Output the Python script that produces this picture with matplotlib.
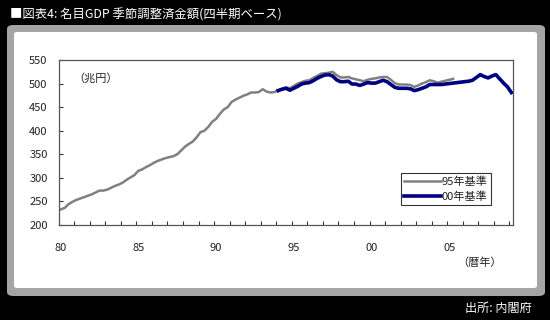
import matplotlib
matplotlib.use('Agg')
import matplotlib.pyplot as plt
from matplotlib.patches import FancyBboxPatch
import numpy as np

plt.rcParams['font.family'] = ['Noto Sans CJK JP', 'DejaVu Sans']

# 名目GDP 季節調整済 (兆円), 四半期: 1980Q1 から
start_year = 1980
n_quarters = 117  # 1980Q1 - 2009Q1

# 95年基準 1980Q1 - 2005Q2
gdp_95 = [
    233, 236, 244, 249,
    253, 256, 259, 262,
    265, 269, 273, 273,
    275, 279, 283, 286,
    290, 296, 301, 306,
    315, 318, 323, 327,
    332, 336, 339, 342,
    344, 346, 350, 358,
    366, 372, 377, 386,
    397, 400, 408, 419,
    425, 436, 445, 450,
    461, 466, 470, 474,
    477, 481, 481, 482,
    488, 483, 481, 482,
    486, 489, 492, 490,
    495, 500, 503, 506,
    507, 512, 516, 521,
    522, 523, 525, 518,
    513, 513, 514, 511,
    509, 507, 505, 508,
    510, 511, 513, 514,
    514, 508, 501, 498,
    498, 498, 497, 493,
    496, 500, 503, 507,
    505, 502, 504, 506,
    508, 510,
]

# 00年基準 1994Q1 - 2009Q1
start_00 = 56
gdp_00 = [
    485, 488, 490, 486,
    490, 494, 499, 501,
    502, 506, 511, 515,
    518, 519, 516, 508,
    504, 504, 505, 499,
    499, 496, 499, 502,
    501, 501, 504, 507,
    504, 498, 492, 490,
    490, 490, 489, 485,
    487, 490, 493, 498,
    498, 498, 498, 499,
    500, 501, 502, 503,
    504, 505, 507, 513,
    519, 515, 512, 516,
    519, 510, 501, 493,
    481,
]

year_labels = ['80', '85', '90', '95', '00', '05']

W, H = 550, 320
fig = plt.figure(figsize=(W / 100, H / 100), dpi=100)
fig.patch.set_facecolor('black')

# 外枠
fig.patches.append(FancyBboxPatch((7 / W, 1 - 296 / H), 538 / W, 271 / H,
                                  boxstyle='round,pad=0,rounding_size=0.012',
                                  transform=fig.transFigure, facecolor='#a5a5a5',
                                  edgecolor='none', zorder=-2))
fig.patches.append(FancyBboxPatch((14 / W, 1 - 288 / H), 523 / W, 256 / H,
                                  boxstyle='round,pad=0,rounding_size=0.006',
                                  transform=fig.transFigure, facecolor='white',
                                  edgecolor='none', zorder=-1))

fig.text(10 / W, 1 - 15 / H, '■図表4: 名目GDP 季節調整済金額(四半期ベース)',
         color='white', fontsize=8.9, va='center', ha='left')
fig.text(532 / W, 1 - 308 / H, '出所: 内閣府', color='white', fontsize=8.7,
         va='center', ha='right')

ax = fig.add_axes([58.7 / W, 1 - 225 / H, 454.6 / W, 165 / H])
ax.set_zorder(2)
ax.set_facecolor('none')

x95 = np.arange(len(gdp_95)) + 0.5
x00 = np.arange(start_00, start_00 + len(gdp_00)) + 0.5
ax.plot(x95, gdp_95, color='#808080', linewidth=1.8, label='95年基準', zorder=2)
ax.plot(x00, gdp_00, color='#000080', linewidth=2.6, label='00年基準', zorder=3)

ax.set_xlim(0, n_quarters)
ax.set_ylim(200, 550)
ax.set_yticks(np.arange(200, 551, 50))
ax.set_xticks(np.arange(0, n_quarters, 4))
ax.set_xticklabels([])
ax.tick_params(axis='x', which='major', direction='in', length=3, width=0.8, color='#333333')
ax.set_xticks(np.arange(len(year_labels)) * 20 + 0.5, year_labels, minor=True)
ax.tick_params(axis='x', which='minor', length=0, pad=13, labelsize=8, labelcolor='#222222')
ax.tick_params(axis='y', direction='in', length=3, width=0.8, labelsize=8,
               labelcolor='#222222', pad=8, color='#333333')
for s in ax.spines.values():
    s.set_color('#555555')
    s.set_linewidth(0.9)

ax.text(0.031, 0.89, '（兆円）', transform=ax.transAxes, fontsize=8,
        color='#222222', va='center', ha='left')
ax.text(0.925, -0.23, '（暦年）', transform=ax.transAxes, fontsize=8,
        color='#222222', va='center', ha='center')

leg = ax.legend(loc='upper left', bbox_to_anchor=(400.7 / W, 1 - 173.3 / H),
                bbox_transform=fig.transFigure, fontsize=8, frameon=True,
                fancybox=False, handlelength=3.3, handletextpad=0.1,
                borderpad=0.3, labelspacing=0.35, borderaxespad=0)
leg.get_frame().set_edgecolor('black')
leg.get_frame().set_linewidth(0.8)
for t in leg.get_texts():
    t.set_color('#222222')

fig.savefig('out.png', dpi=100, facecolor=fig.get_facecolor())
